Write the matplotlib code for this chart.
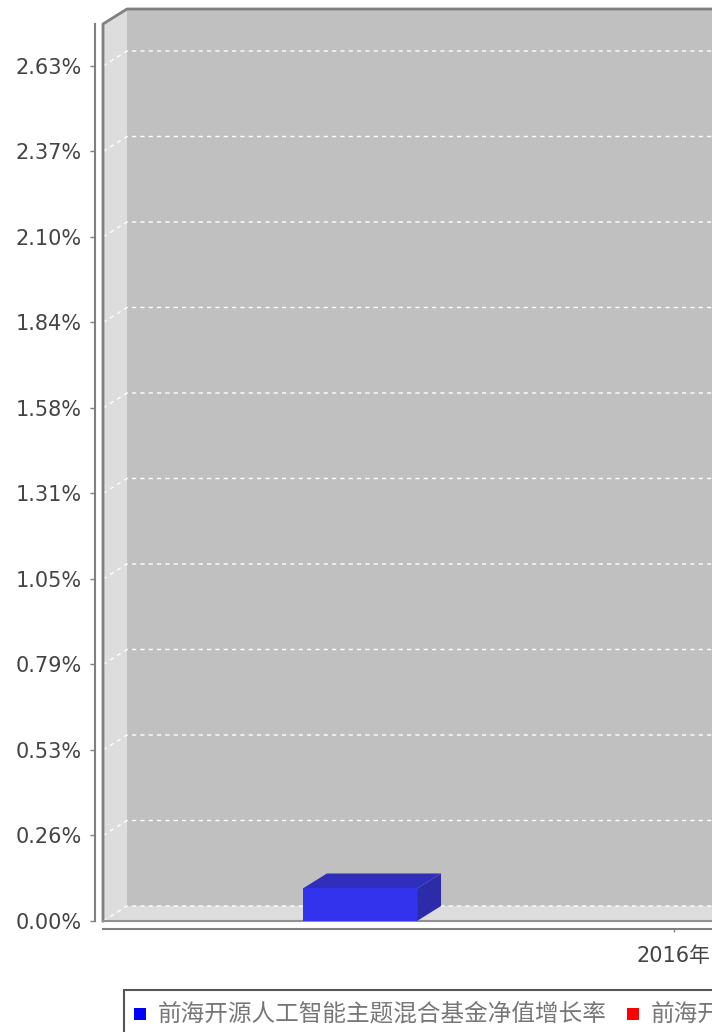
import numpy as np
import matplotlib
matplotlib.use("Agg")
from matplotlib import pyplot as plt
from matplotlib.patches import Polygon, Rectangle
from matplotlib.lines import Line2D
from matplotlib.transforms import IdentityTransform

plt.rcParams['font.family'] = ['DejaVu Sans', 'Noto Sans CJK SC']

categories = ["2016年"]
series_names = ["前海开源人工智能主题混合基金净值增长率",
                "前海开源人工智能主题混合基金业绩比较基准增长率"]
series_colors = ["#0000ff", "#ff0000"]
fund_growth = [0.10]
ytick_vals = [0.00, 0.263, 0.526, 0.789, 1.052, 1.315, 1.578, 1.841, 2.104, 2.367, 2.63]
ytick_labels = ["0.00%", "0.26%", "0.53%", "0.79%", "1.05%", "1.31%",
                "1.58%", "1.84%", "2.10%", "2.37%", "2.63%"]

W, H, DPI = 712, 1032, 100
DX, DY = 24, 15  # 3d depth in pixels

fig = plt.figure(figsize=(W / DPI, H / DPI), dpi=DPI)
# front plane of the plot; the original chart is cropped on the right
ax = fig.add_axes([103 / W, 1 - 921 / H, 1142 / W, (921 - 24) / H])
ax.set_xlim(-0.5, 0.5)
ax.set_ylim(0, (921 - 24) / 325.1)
ax.patch.set_visible(False)

ident = IdentityTransform()
(x0, y0), (x1, y1) = ax.transAxes.transform([(0, 0), (1, 1)])

def poly(pts, **kw):
    ax.add_patch(Polygon(pts, closed=True, transform=ident, clip_on=False, **kw))

# walls
poly([(x0 + DX, y0 + DY), (x1 + DX, y0 + DY), (x1 + DX, y1 + DY), (x0 + DX, y1 + DY)],
     fc='#c0c0c0', ec='none', zorder=0)
poly([(x0, y0), (x0 + DX, y0 + DY), (x0 + DX, y1 + DY), (x0, y1)],
     fc='#dddddd', ec='none', zorder=0)
poly([(x0, y0), (x1, y0), (x1 + DX, y0 + DY), (x0 + DX, y0 + DY)],
     fc='#dddddd', ec='none', zorder=0)

# gridlines on the back wall
for v in ytick_vals:
    yd = ax.transData.transform((0, v))[1]
    ax.add_line(Line2D([x0, x0 + DX, x1 + DX], [yd, yd + DY, yd + DY], transform=ident,
                       color='white', lw=1, dashes=(3, 3), clip_on=False, zorder=1))

# wall outline
ax.add_line(Line2D([x0, x0, x0 + DX, x1 + DX], [y0, y1, y1 + DY, y1 + DY], transform=ident,
                   color='#808080', lw=2, clip_on=False, zorder=2))
ax.add_line(Line2D([x0, x1], [y0, y0], transform=ident,
                   color='#909090', lw=1.5, clip_on=False, zorder=2))

# bars
bar_w = 0.1
offsets = [-0.275, 0.275]
xs = np.arange(len(categories)) + offsets[0]
bars = ax.bar(xs, fund_growth, width=bar_w, color='#3333ee', zorder=4)
for b in bars:
    (bx0, by0), (bx1, by1) = ax.transData.transform(
        [(b.get_x(), 0), (b.get_x() + b.get_width(), b.get_height())])
    poly([(bx0, by1), (bx1, by1), (bx1 + DX, by1 + DY), (bx0 + DX, by1 + DY)],
         fc='#2f2fbb', ec='none', zorder=3)
    poly([(bx1, by0), (bx1 + DX, by0 + DY), (bx1 + DX, by1 + DY), (bx1, by1)],
         fc='#2c2caa', ec='none', zorder=3)

# axes
for s in ['top', 'right']:
    ax.spines[s].set_visible(False)
for s in ['left', 'bottom']:
    ax.spines[s].set_position(('outward', 5.8))
    ax.spines[s].set_color('#808080')
    ax.spines[s].set_linewidth(1.5)
ax.set_yticks(ytick_vals, ytick_labels)
ax.set_xticks(np.arange(len(categories)), categories)
ax.tick_params(axis='y', length=3.6, width=1, color='#808080', pad=6,
               labelsize=15, labelcolor='#444444')
ax.tick_params(axis='x', length=2.5, width=1, color='#808080', pad=10,
               labelsize=15, labelcolor='#444444')

# legend
fig.add_artist(Rectangle((124 / W, 1 - 1045 / H), 700 / W, 55 / H, transform=fig.transFigure,
                         fill=False, ec='#555555', lw=1.5))
lg_y = 1014
for name, col, sx in zip(series_names, series_colors, [134, 627]):
    fig.add_artist(Rectangle((sx / W, 1 - (lg_y + 6) / H), 12 / W, 12 / H,
                             transform=fig.transFigure, fc=col, ec='none'))
    fig.text((sx + 24) / W, 1 - lg_y / H, name, fontsize=17, color='#777777',
             va='center', ha='left', family=['Noto Sans CJK SC'])

fig.savefig('out.png', dpi=DPI)
